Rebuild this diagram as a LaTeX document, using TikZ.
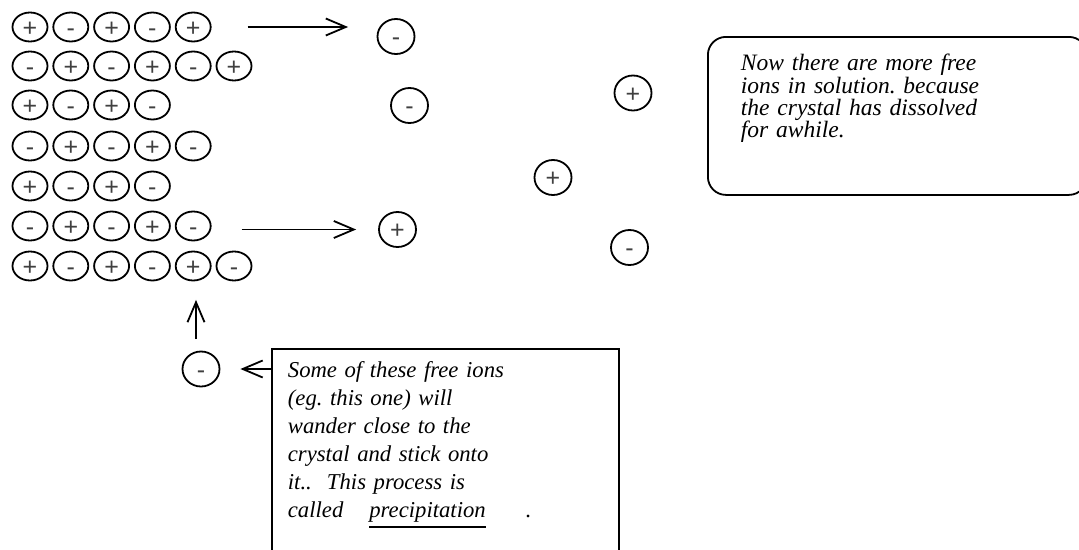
\documentclass[tikz,border=0pt]{standalone}
\usepackage{fontspec}
\setmainfont{Liberation Serif}
\newfontfamily\signfont{Liberation Sans}
\usetikzlibrary{arrows.meta,shapes.geometric}
\frenchspacing

\newcommand\fillin[1]{\setbox0=\hbox{#1}\rlap{\rule[-10pt]{\wd0}{1.6pt}}\box0}

\begin{document}
\begin{tikzpicture}[
    x=1pt, y=-1pt,
    >={Straight Barb[length=20pt,width=17pt]},
    line width=1.8pt,
    ion/.style={
      ellipse,
      draw,
      inner sep=0pt,
      text=black!75,
      text height=18pt,
      text depth=0pt,
      font=\signfont\fontsize{25}{25}\selectfont
    },
    crystal ion/.style={ion, minimum width=35pt, minimum height=29pt},
    free ion/.style={ion, minimum width=37pt, minimum height=35pt},
    note/.style={draw, anchor=north west, align=left}
    ]

    \useasboundingbox (0,0) rectangle (1079,549);
    \clip (0,0) rectangle (1079,549);

    % the crystal
    \foreach \row/\y/\signs in {1/27/{+,-,+,-,+}, 2/66/{-,+,-,+,-,+},
        3/105/{+,-,+,-}, 4/146/{-,+,-,+,-}, 5/186/{+,-,+,-},
        6/226/{-,+,-,+,-}, 7/266/{+,-,+,-,+,-}}
      \foreach \s [count=\col] in \signs
        \node [crystal ion] (c-\row-\col) at ({30+40.8*(\col-1)}, \y) {\s};

    % free ions in solution
    \node [free ion] (f-1) at (396,36.5) {-};
    \node [free ion] (f-2) at (409.5,105.5) {-};
    \node [free ion] (f-3) at (633,93) {+};
    \node [free ion] (f-4) at (553,177.5) {+};
    \node [free ion] (f-5) at (397.5,229.5) {+};
    \node [free ion] (f-6) at (629.5,247.5) {-};
    \node [free ion] (f-7) at (201,369) {-};

    \node [note, rounded corners=18pt, inner xsep=33pt, inner ysep=18pt,
      text width=313pt, text height=16pt, text depth=106pt,
      font=\itshape\fontsize{23.5}{22.3}\selectfont] (dissolved) at (707,36)
      {Now there are more free\\ions in solution. because\\the crystal has dissolved\\for awhile.};

    \node [note, inner xsep=16pt, inner ysep=14pt,
      text width=315pt, text height=15pt, text depth=200pt,
      font=\itshape\fontsize{22.7}{28}\selectfont] (precip) at (271,348)
      {Some of these free ions\\(eg. this one) will\\wander close to the\\crystal and stick onto\\it..\ \ This process is\\called\hspace*{26pt}\fillin{precipitation}\hspace*{40pt}.};

    \draw[->, shorten <=36pt, shorten >=28.5pt] (c-1-5.east) -- (c-1-5.east -| f-1.west);
    \draw[->, shorten <=30pt, shorten >=22pt] (f-5.west -| c-6-5.east) -- (f-5.west);
    \draw[->, shorten <=11.5pt, shorten >=18.5pt] ([xshift=-5pt]f-7.north) -- ([xshift=-5pt]f-7.north |- c-7-5.south);
    \draw[->, shorten >=20pt] (f-7.east -| precip.west) -- (f-7.east);

\end{tikzpicture}
\end{document}
